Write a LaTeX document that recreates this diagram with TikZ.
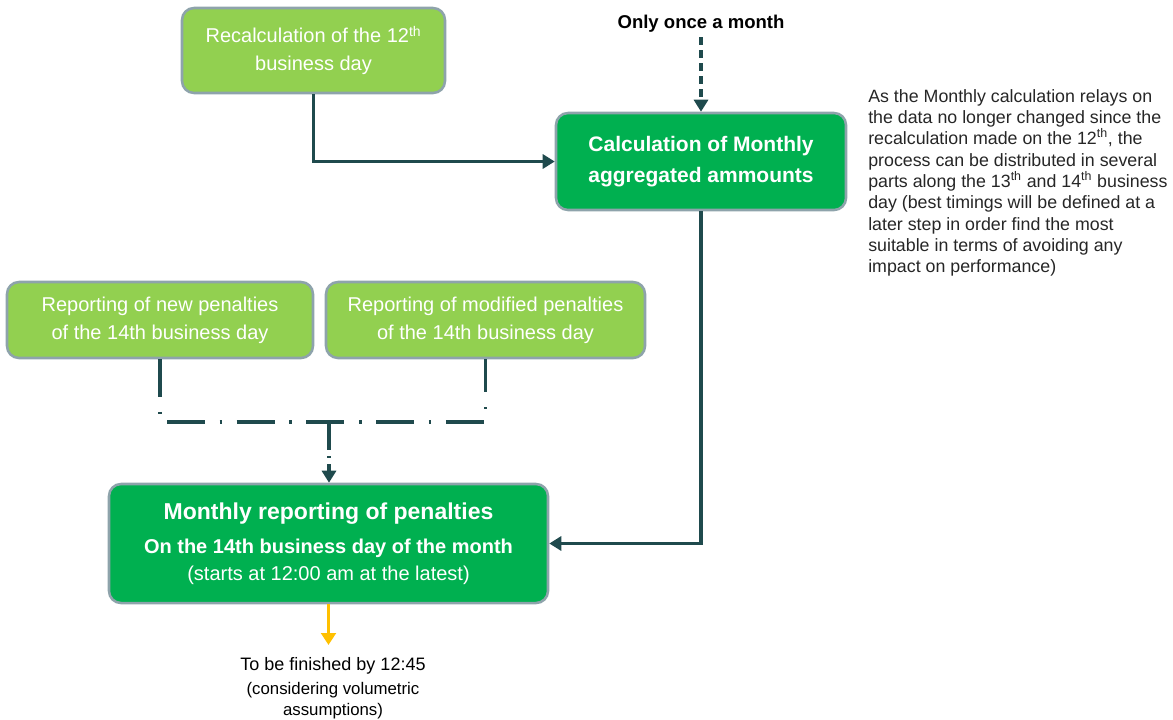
\documentclass[tikz,border=0pt]{standalone}
\usepackage{fontspec}
\setmainfont{Liberation Sans}
\usetikzlibrary{arrows.meta, positioning}
\definecolor{lightgreen}{HTML}{92D050}
\definecolor{darkgreen}{HTML}{00B050}
\definecolor{bordergray}{HTML}{8EA3AB}
\definecolor{lineteal}{HTML}{1F4A4D}
\definecolor{warnorange}{HTML}{FFC000}
\definecolor{notegray}{HTML}{262626}

\begin{document}
\begin{tikzpicture}[
    x=0.75pt, y=-0.75pt,
    stepbox/.style={rectangle, rounded corners=9pt, draw=bordergray, line width=1.9pt, text=white, align=center, inner sep=0pt},
    lightbox/.style={stepbox, fill=lightgreen, font=\fontsize{15}{21}\selectfont},
    darkbox/.style={stepbox, fill=darkgreen},
    arr/.style={-{Triangle[length=9pt,width=10.5pt]}, lineteal, line width=2.8pt},
    dasharr/.style={arr, dash pattern=on 6pt off 3.75pt},
    dotline/.style={lineteal, line width=2.8pt, dash pattern=on 28.5pt off 11pt on 1.8pt off 11pt},
    dotarr/.style={arr, dash pattern=on 21pt off 4.5pt on 1.8pt off 4.5pt},
  ]
    \useasboundingbox (0,0) rectangle (1173,719);

    % boxes
    \node[lightbox, minimum width=197.25pt, minimum height=63.75pt] (recalc) at (313.5,50.5)
      {Recalculation of the 12\textsuperscript{th}\\business day};
    \node[darkbox, minimum width=217.5pt, minimum height=72.75pt, font=\fontsize{15.75}{23.25}\selectfont\bfseries] (calc) at (701,161.5)
      {Calculation of Monthly\\aggregated ammounts};
    \node[lightbox, minimum width=229.5pt, minimum height=57pt] (new) at (160,320)
      {Reporting of new penalties\\of the 14th business day};
    \node[lightbox, minimum width=239.25pt, minimum height=57pt] (mod) at (485.5,320)
      {Reporting of modified penalties\\of the 14th business day};
    \node[darkbox, minimum width=329.25pt, minimum height=89.25pt, font=\fontsize{15}{20.25}\selectfont] (monthly) at (328.5,543.5)
      {{\fontsize{17.25}{20}\selectfont\bfseries Monthly reporting of penalties}\\[5.25pt]
       {\bfseries On the 14th business day of the month}\\
       (starts at 12:00 am at the latest)};

    % texts
    \node[font=\fontsize{13.9}{16}\selectfont\bfseries] (once) at (701,24) {Only once a month};
    \node[anchor=north, align=center, inner sep=0pt, font=\fontsize{12.6}{15.75}\selectfont] (finish) at (333,657)
      {{\fontsize{13.5}{16}\selectfont To be finished by 12:45}\\[2.25pt]
       (considering volumetric\\assumptions)};
    \node[anchor=north west, align=left, inner sep=0pt, text=notegray, font=\fontsize{13.35}{16}\selectfont] (note) at (868,89)
      {As the Monthly calculation relays on\\
       the data no longer changed since the\\
       recalculation made on the 12\textsuperscript{th}, the\\
       process can be distributed in several\\
       parts along the 13\textsuperscript{th} and 14\textsuperscript{th} business\\
       day (best timings will be defined at a\\
       later step in order find the most\\
       suitable in terms of avoiding any\\
       impact on performance)};

    \coordinate (join) at (329,422);

    % connectors
    \draw[dasharr] (once.south) -- (calc.north);
    \draw[arr] (recalc.south) |- (calc.west);
    \draw[arr] (calc.south) |- (monthly.east);
    \draw[dotline] (new.south) |- (join) -| (mod.south);
    \draw[dotarr] (join) -- (join |- monthly.north);
    \draw[-{Triangle[length=9pt,width=11pt]}, warnorange, line width=2.4pt, shorten >=9pt]
      (monthly.south) -- (monthly.south |- finish.north);
  \end{tikzpicture}
\end{document}
